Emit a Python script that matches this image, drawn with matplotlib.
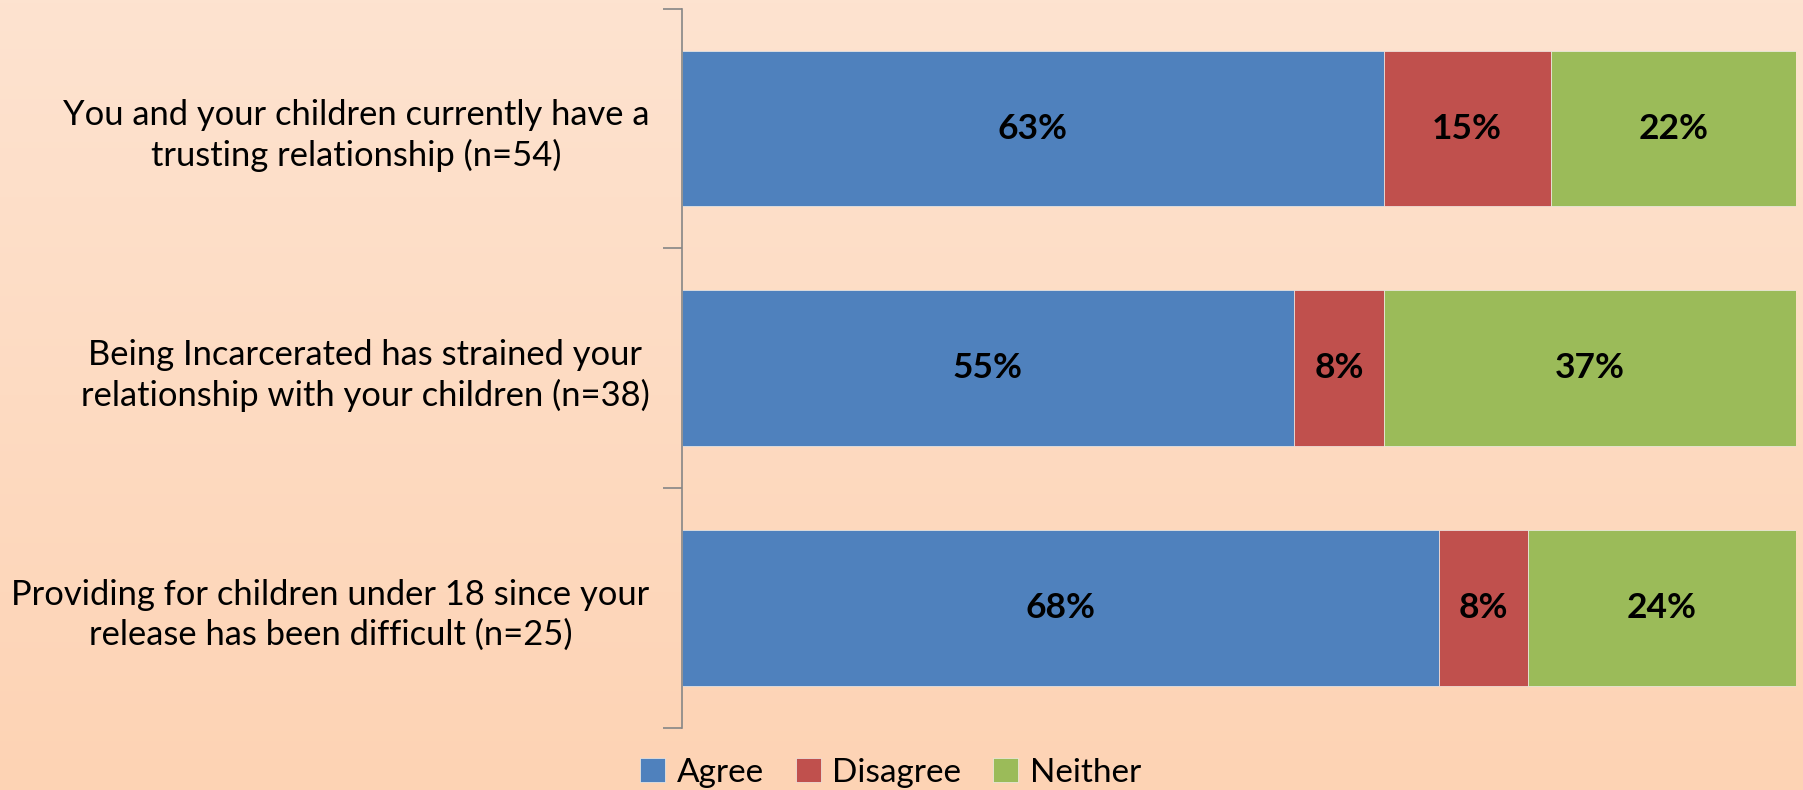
import matplotlib
matplotlib.use("Agg")
import matplotlib.pyplot as plt
import numpy as np
from matplotlib.colors import LinearSegmentedColormap

categories = [
    "You and your children currently have a\ntrusting relationship (n=54)",
    "Being Incarcerated has strained your\nrelationship with your children (n=38)",
    "Providing for children under 18 since your\nrelease has been difficult (n=25)",
]
series_names = ["Agree", "Disagree", "Neither"]
agree = [63, 55, 68]
disagree = [15, 8, 8]
neither = [22, 37, 24]
colors = ["#4F81BD", "#C0504D", "#9BBB59"]

plt.rcParams['font.family'] = ['Lato', 'DejaVu Sans']

fig = plt.figure(figsize=(18.03, 7.90), dpi=100)

# background gradient
bg = fig.add_axes([0, 0, 1, 1], zorder=-10)
cmap = LinearSegmentedColormap.from_list("bg", ["#FDE3D0", "#FDD3B4"])
grad = np.linspace(0, 1, 256).reshape(-1, 1)
bg.imshow(grad, aspect="auto", cmap=cmap, extent=[0, 1, 0, 1], origin="upper")
bg.axis("off")

ax = fig.add_axes([0.378, 0.0785, 0.618, 0.9105])
ax.set_facecolor("none")

y = np.arange(len(categories))
left = np.zeros(len(categories))
for name, vals, c in zip(series_names, [agree, disagree, neither], colors):
    ax.barh(y, vals, left=left, height=0.65, color=c, label=name,
            edgecolor="#F0EDE8", linewidth=0.5)
    for yi, l, v in zip(y, left, vals):
        ax.text(l + v / 2, yi, f"{v}%", ha="center", va="center",
                fontsize=25.5, fontweight="bold", color="black")
    left = left + np.array(vals)

ax.set_xlim(0, 100)
ax.set_ylim(len(categories) - 0.5, -0.5)
ax.set_yticks(y)
ax.set_yticklabels(categories, fontsize=24.8, ha="right", multialignment="center",
                   linespacing=1.3)
ax.tick_params(axis="y", which="major", length=0, pad=23)
ax.set_yticks(np.arange(-0.5, len(categories), 1), minor=True)
ax.tick_params(axis="y", which="minor", length=14, width=1.2, color="#868686")
ax.set_xticks([])
for s in ["top", "right", "bottom"]:
    ax.spines[s].set_visible(False)
ax.spines["left"].set_color("#868686")
ax.spines["left"].set_linewidth(1.2)

fig.legend(loc="center", bbox_to_anchor=(0.494, 0.022), ncol=3, frameon=False,
           fontsize=24, handlelength=0.75, handleheight=0.75, handletextpad=0.35,
           columnspacing=0.95)

fig.savefig("out.png", dpi=100)
